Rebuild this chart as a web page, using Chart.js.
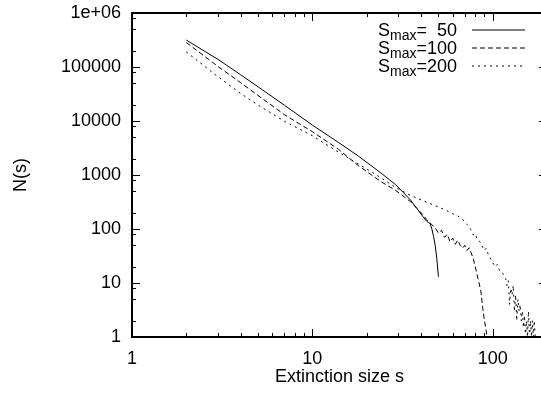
<!DOCTYPE html>
<html>
<head>
<meta charset="utf-8">
<script src="https://cdn.jsdelivr.net/npm/chart.js@4.4.1/dist/chart.umd.min.js"></script>
<style>
  html, body { margin: 0; padding: 0; background: #fff; overflow: hidden; }
  #wrap { width: 548px; height: 397px; }
</style>
</head>
<body>
<div id="wrap"><canvas id="chart" width="548" height="397"></canvas></div>
<script>
// extinction size s and number of extinctions N(s), one pair of arrays per S_max run
const s50 = [2, 3, 4, 5, 7, 10, 14, 18, 24, 29, 32, 35, 38, 41, 43, 45, 46, 47, 48, 49, 50];
const n50 = [316000, 138000, 72000, 43000, 19600, 8400, 3980, 2240, 1090, 660, 470, 345, 240, 170, 140, 125, 100, 72, 50, 28, 13];

const s100 = [2, 3, 4, 5, 7, 10, 14, 18, 24, 29, 35, 41, 43, 46, 48, 50, 52, 54, 56, 58, 60, 62, 64, 66, 68, 70, 72, 74, 76, 78, 80, 82, 84, 86, 88, 90, 92, 93];
const n100 = [285000, 102000, 51400, 29700, 13100, 6340, 2970, 1490, 755, 517, 321, 185, 150, 120, 105, 84, 95, 70, 80, 58, 68, 52, 62, 50, 44, 50, 40, 45, 36, 28, 20, 14, 10, 7, 3.5, 2, 1.3, 1];

const s200 = [2, 3, 4, 5, 7, 10, 14, 18, 24, 29, 35, 41, 45, 50, 55, 60, 64, 68, 70, 72, 74, 76, 78, 80, 82, 85, 88, 90, 92, 95, 98, 100, 103, 106, 110, 114, 118, 120, 122, 124, 126, 128, 130, 132, 134, 136, 138, 140, 142, 144, 146, 148, 150, 152, 154, 156, 158, 160, 162, 164, 166, 168, 170, 172];
const n200 = [190000, 66000, 32400, 19700, 9860, 5340, 2630, 1600, 890, 585, 419, 336, 295, 255, 222, 192, 175, 150, 138, 122, 110, 95, 78, 82, 64, 58, 46, 40, 44, 32, 27, 24, 20, 22, 16, 15, 12, 9, 11, 4, 8, 6, 9, 3, 6, 2, 5, 3, 4, 2, 3, 1.5, 2.5, 1, 2, 1, 3, 1, 2, 1, 2, 1, 2, 1];

const smaxLabels = ['50', '100', '200'];
const dashes = [[], [5, 3], [2, 4]];
const xTicks = [1, 10, 100];
const yTicks = [1, 10, 100, 1000, 10000, 100000, 1000000];

const FONT = "'Liberation Sans', Arial, Helvetica, sans-serif";

function pts(xs, ys) {
  return xs.map((x, i) => ({ x: x, y: ys[i] }));
}

// gnuplot style frame: thick border, inward ticks mirrored on all sides
const frame = {
  id: 'frame',
  afterDatasetsDraw(chart) {
    const { ctx, chartArea: a, scales: { x, y } } = chart;
    ctx.save();
    ctx.strokeStyle = '#000';
    ctx.lineWidth = 1;
    ctx.beginPath();
    for (let d = 1; d <= 100; d *= 10) {
      for (let m = 1; m <= 9; m++) {
        const v = d * m;
        if (v > x.max) break;
        const px = Math.round(x.getPixelForValue(v)) + 0.5;
        const len = m === 1 ? 8 : 4;
        ctx.moveTo(px, a.bottom); ctx.lineTo(px, a.bottom - len);
        ctx.moveTo(px, a.top); ctx.lineTo(px, a.top + len);
      }
    }
    for (let d = 1; d <= 1000000; d *= 10) {
      [1, 2, 5, 8].forEach(m => {
        const v = d * m;
        if (v > y.max) return;
        const py = Math.round(y.getPixelForValue(v)) + 0.5;
        const len = m === 1 ? 8 : 4;
        ctx.moveTo(a.left, py); ctx.lineTo(a.left + len, py);
        ctx.moveTo(a.right, py); ctx.lineTo(a.right - len, py);
      });
    }
    ctx.stroke();
    ctx.lineWidth = 2;
    ctx.strokeRect(a.left, a.top, a.right - a.left, a.bottom - a.top);
    ctx.restore();
  }
};

// key with subscripted S_max, drawn top right inside the frame
const key = {
  id: 'key',
  afterDatasetsDraw(chart) {
    const { ctx, chartArea: a } = chart;
    ctx.save();
    ctx.fillStyle = '#000';
    ctx.strokeStyle = '#000';
    ctx.textBaseline = 'alphabetic';
    smaxLabels.forEach((lab, i) => {
      const base = a.top + 22.5 + i * 18;
      let tx = a.right - 169;
      ctx.textAlign = 'left';
      ctx.font = '18px ' + FONT;
      ctx.fillText('S', tx, base);
      tx += ctx.measureText('S').width;
      ctx.font = '14px ' + FONT;
      ctx.fillText('max', tx, base + 4);
      tx += ctx.measureText('max').width;
      ctx.font = '18px ' + FONT;
      ctx.fillText('=', tx, base);
      tx += ctx.measureText('=').width + ctx.measureText('100').width;
      ctx.textAlign = 'right';
      ctx.fillText(lab, tx, base);
      ctx.lineWidth = 1;
      ctx.setLineDash(dashes[i]);
      ctx.beginPath();
      ctx.moveTo(a.right - 75, base - 5.5);
      ctx.lineTo(a.right - 22, base - 5.5);
      ctx.stroke();
    });
    ctx.restore();
  }
};

const sets = [pts(s50, n50), pts(s100, n100), pts(s200, n200)];

new Chart(document.getElementById('chart'), {
  type: 'scatter',
  data: {
    datasets: sets.map((data, i) => ({
      label: 'Smax=' + smaxLabels[i],
      data: data,
      showLine: true,
      borderColor: '#000',
      borderWidth: 1,
      borderDash: dashes[i],
      pointRadius: 0,
      fill: false,
    }))
  },
  options: {
    responsive: false,
    animation: false,
    layout: { padding: { top: 13, right: 1, left: 0, bottom: 0 } },
    plugins: { legend: { display: false }, tooltip: { enabled: false } },
    scales: {
      x: {
        type: 'logarithmic',
        min: 1,
        max: 200,
        afterBuildTicks: s => { s.ticks = xTicks.map(v => ({ value: v })); },
        afterFit: s => { s.height = 60; s.paddingLeft = 0; s.paddingRight = 0; },
        grid: { display: false, drawTicks: false },
        border: { display: false },
        ticks: {
          autoSkip: false, maxRotation: 0, padding: 11, color: '#000',
          font: { family: FONT, size: 18 },
          callback: v => String(v)
        },
        title: {
          display: true, text: 'Extinction size s', color: '#000',
          font: { family: FONT, size: 18 }, padding: { top: 0, bottom: 9 }
        }
      },
      y: {
        type: 'logarithmic',
        min: 1,
        max: 1000000,
        afterBuildTicks: s => { s.ticks = yTicks.map(v => ({ value: v })); },
        afterFit: s => { s.width = 132; s.paddingTop = 0; s.paddingBottom = 0; },
        grid: { display: false, drawTicks: false },
        border: { display: false },
        ticks: {
          autoSkip: false, padding: 11, color: '#000',
          font: { family: FONT, size: 18 },
          callback: v => v === 1000000 ? '1e+06' : String(v)
        },
        title: {
          display: true, text: 'N(s)', color: '#000',
          font: { family: FONT, size: 18 }, padding: { top: 10, bottom: 0 }
        }
      }
    }
  },
  plugins: [frame, key]
});
</script>
</body>
</html>
